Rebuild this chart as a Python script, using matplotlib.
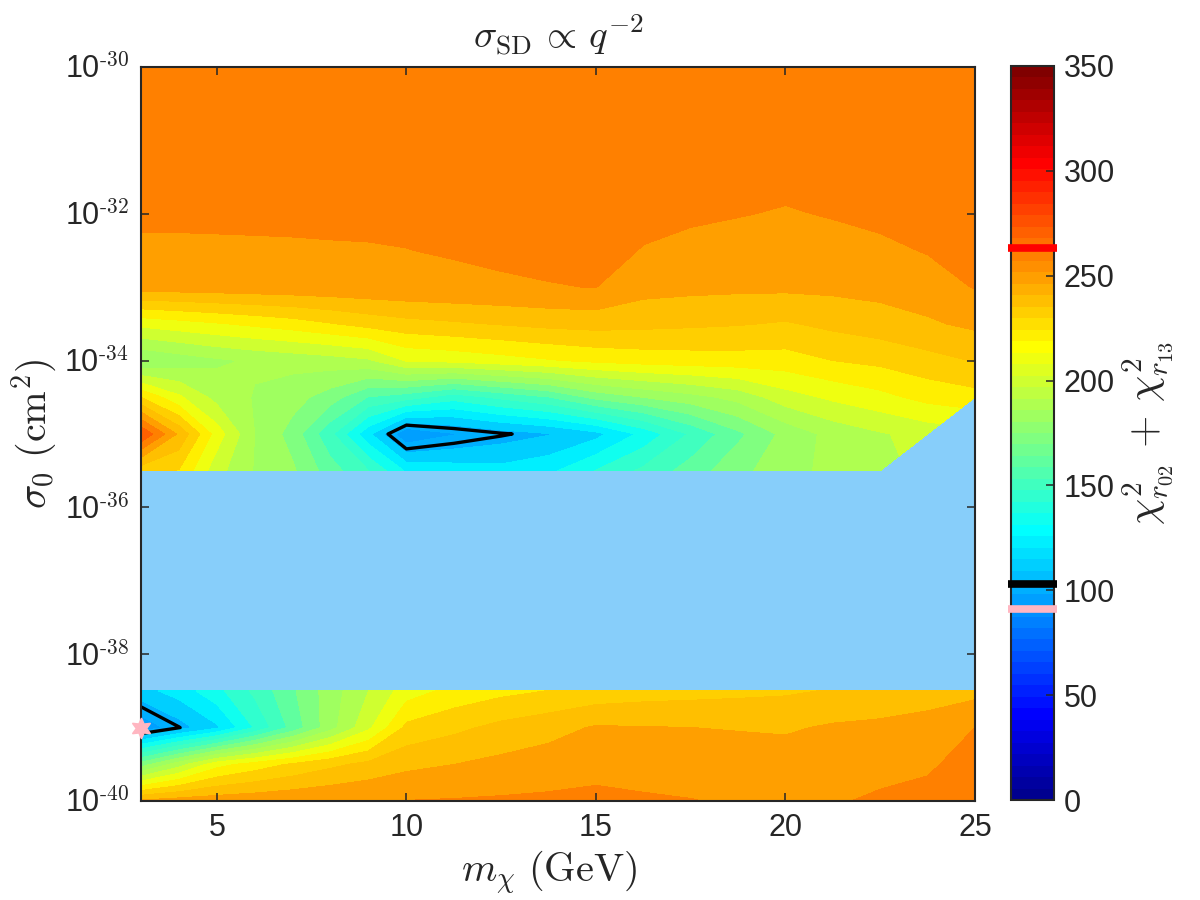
import numpy as np
import matplotlib
matplotlib.use("Agg")
import matplotlib.pyplot as plt
from matplotlib.cm import ScalarMappable
from matplotlib.colors import ListedColormap, Normalize

plt.rcParams['font.family'] = ['Liberation Sans', 'DejaVu Sans']
plt.rcParams['mathtext.fontset'] = 'cm'

mass = [3, 4, 5, 6, 7, 8, 9, 10, 11.25, 12.5, 13.75, 15, 16.25, 17.5, 18.75, 20, 21.25, 22.5, 23.75, 25]
log_sigma = [-40, -39.5, -39, -38.5, -38, -37.5, -37, -36.5, -36, -35.5, -35, -34.5, -34,
             -33.5, -33, -32.5, -32, -31.5, -31, -30.5, -30]
nan = float('nan')

row_m40_0 = [245, 248, 249, 250, 251, 252, 252.5, 253, 253.5, 254, 254.5, 255, 254, 253.1, 251.8, 251, 252, 254, 256, 259]
row_m39_5 = [170, 190, 210, 218, 225, 231, 236, 240.6, 243, 245.6, 247.7, 249.8, 248.9, 248.5, 248, 248, 249, 250.2, 251.3, 257]
row_m39_0 = [90, 102.6, 115, 137, 159, 181, 202, 226, 231, 236, 239.6, 244, 243.5, 243.1, 242.5, 241.8, 244.3, 245.3, 247.3, 252.8]
row_m38_5 = [113, 121, 133, 148, 163.8, 180, 194.4, 209, 217, 221, 223.8, 227, 229, 230, 231, 232, 234, 236, 238, 240]
row_gap = [nan] * 20
row_m35_5 = [227, 223, 198, 184, 176.5, 160, 146, 125, 122, 120, 124, 136.5, 148, 160, 172, 181, 187.5, 192, nan, nan]
row_m35_0 = [272, 241.2, 209.3, 184.7, 171, 148, 119, 88, 96.5, 102, 106.3, 113.5, 129, 147, 163, 178, 188, 193.5, 198, nan]
row_m34_5 = [223.6, 206, 191, 184, 179, 170, 155, 150, 140, 148, 155, 168, 175, 181, 188, 199.8, 206, 211, 217, 220]
row_m34_0 = [174.5, 179, 183, 186, 188, 190, 193, 205, 207, 210, 213, 216, 218, 219, 219.5, 219.5, 223.6, 226, 230, 233.8]
row_m33_5 = [207, 210, 213, 216, 219, 223, 227, 230, 232, 234, 236, 237, 236, 235, 234, 232.4, 235.7, 238.5, 241.8, 245]
row_m33_0 = [247.5, 248, 248.5, 249, 249.5, 250, 250.5, 251, 251.5, 252, 252.5, 252.9, 246.5, 245.5, 245, 245, 245.3, 246.3, 248, 253.3]
row_m32_5 = [251.8, 251.9, 252.1, 252.2, 252.3, 252.4, 252.5, 252.7, 253.2, 253.8, 254.3, 254.8, 252.5, 250.2, 248.3, 247.3, 248.8, 250.6, 253.4, 255.3]
row_m32_0 = [253.8, 253.7, 253.6, 253.6, 253.6, 253.7, 253.7, 253.8, 254.1, 254.3, 254.6, 254.8, 254.3, 254.3, 253.3, 251.9, 253.5, 255.3, 255.8, 256.3]
row_m31_5 = [256, 256, 256, 256, 256, 256, 256, 256, 256, 256.5, 256.5, 256.5, 256.5, 256, 256, 255.8, 256, 256.5, 257, 257]
row_m31_0 = [257.5, 257.5, 257.5, 257.5, 257.5, 257.5, 257.5, 257.5, 257.5, 257.5, 257.5, 257.5, 257.5, 257.5, 257.5, 257.5, 257.5, 258, 258, 258]
row_m30_5 = [258, 258, 258, 258, 258, 258, 258, 258, 258, 258, 258, 258, 258, 258, 258, 258, 258, 258, 258, 258]
row_m30_0 = [258.5, 258.5, 258.5, 258.5, 258.5, 258.5, 258.5, 258.5, 258.5, 258.5, 258.5, 258.5, 258.5, 258.5, 258.5, 258.5, 258.5, 258.5, 258.5, 258.5]

chi2 = np.array([row_m40_0, row_m39_5, row_m39_0, row_m38_5,
                 row_gap, row_gap, row_gap, row_gap, row_gap,
                 row_m35_5, row_m35_0, row_m34_5, row_m34_0, row_m33_5, row_m33_0,
                 row_m32_5, row_m32_0, row_m31_5, row_m31_0, row_m30_5, row_m30_0])

x_ticks = [5, 10, 15, 20, 25]
y_ticks = [-40, -38, -36, -34, -32, -30]
cbar_ticks = [0, 50, 100, 150, 200, 250, 300, 350]
best_fit_mass = [3]
best_fit_sigma = [-39]
contour_level = [103]
marker_red, marker_black, marker_pink = 263, 103, 91

# MATLAB-style 64-step jet
idx = np.arange(1, 65)
jet64 = ListedColormap(np.c_[np.clip(np.minimum(idx - 24, 72 - idx) / 16, 0, 1),
                             np.clip(np.minimum(idx - 8, 56 - idx) / 16, 0, 1),
                             np.clip(np.minimum(idx + 8, 40 - idx) / 16, 0, 1)])
norm = Normalize(0, 350)
levels = np.linspace(0, 350, 37)
DARK = '#262626'
W, H = 1200, 900

fig = plt.figure(figsize=(12, 9), dpi=100)
ax = fig.add_axes([141 / W, 1 - 801 / H, (975 - 141) / W, (801 - 67) / H])
ax.set_facecolor('#87CEFA')
Z = np.ma.masked_invalid(chi2)
ax.contourf(mass, log_sigma, Z, levels=levels, cmap=jet64, norm=Normalize(-1.3, 348.7), antialiased=False)
ax.contour(mass, log_sigma, Z, levels=contour_level, colors='k', linewidths=2.4)
ax.plot(best_fit_mass, best_fit_sigma, marker=(6, 1, 0), ms=15, color='#FFB6C1', mec='#FFB6C1',
        clip_on=False, zorder=5, ls='none')
ax.set_xlim(3, 25)
ax.set_ylim(-40, -30)
ax.set_xticks(x_ticks)
ax.set_yticks(y_ticks)
ax.set_yticklabels([r'$\mathdefault{10^{\text{%d}}}$' % t for t in y_ticks])
ax.tick_params(direction='in', length=6, width=1.1, top=True, right=True, colors=DARK)
ax.tick_params(axis='x', labelsize=22, pad=9)
ax.tick_params(axis='y', labelsize=22, pad=9)
for lab in ax.get_yticklabels():
    lab.set_verticalalignment('center_baseline')
for s in ax.spines.values():
    s.set_linewidth(1.5)
    s.set_color(DARK)
ax.set_title(r'$\sigma_{\mathrm{SD}}\,\propto\,q^{-2}$', fontsize=28, pad=13, color=DARK)
ax.set_xlabel(r'$m_{\chi}\ (\mathrm{GeV})$', fontsize=29, color=DARK, labelpad=4, x=0.4898)
ax.set_ylabel(r'$\sigma_{0}\ (\mathrm{cm}^{2})$', fontsize=29, color=DARK, labelpad=4)

cax = fig.add_axes([1011 / W, 1 - 800 / H, 43 / W, 734 / H])
cb = fig.colorbar(ScalarMappable(norm=norm, cmap=jet64), cax=cax, ticks=cbar_ticks)
cb.outline.set_linewidth(1.5)
cb.outline.set_edgecolor(DARK)
cb.ax.tick_params(direction='in', length=6, width=1.1, labelsize=22, colors=DARK, pad=7)
cb.set_label(r'$\chi^{2}_{r_{02}}\,+\,\chi^{2}_{r_{13}}$', fontsize=30, color=DARK, labelpad=4)
for val, col in [(marker_red, '#FF0000'), (marker_black, 'k'), (marker_pink, '#FFB6C1')]:
    cax.plot([-0.08, 1.08], [val, val], color=col, lw=5.5, solid_capstyle='butt', clip_on=False,
             transform=cax.get_yaxis_transform(), zorder=6)

fig.savefig('out.png', dpi=100)
